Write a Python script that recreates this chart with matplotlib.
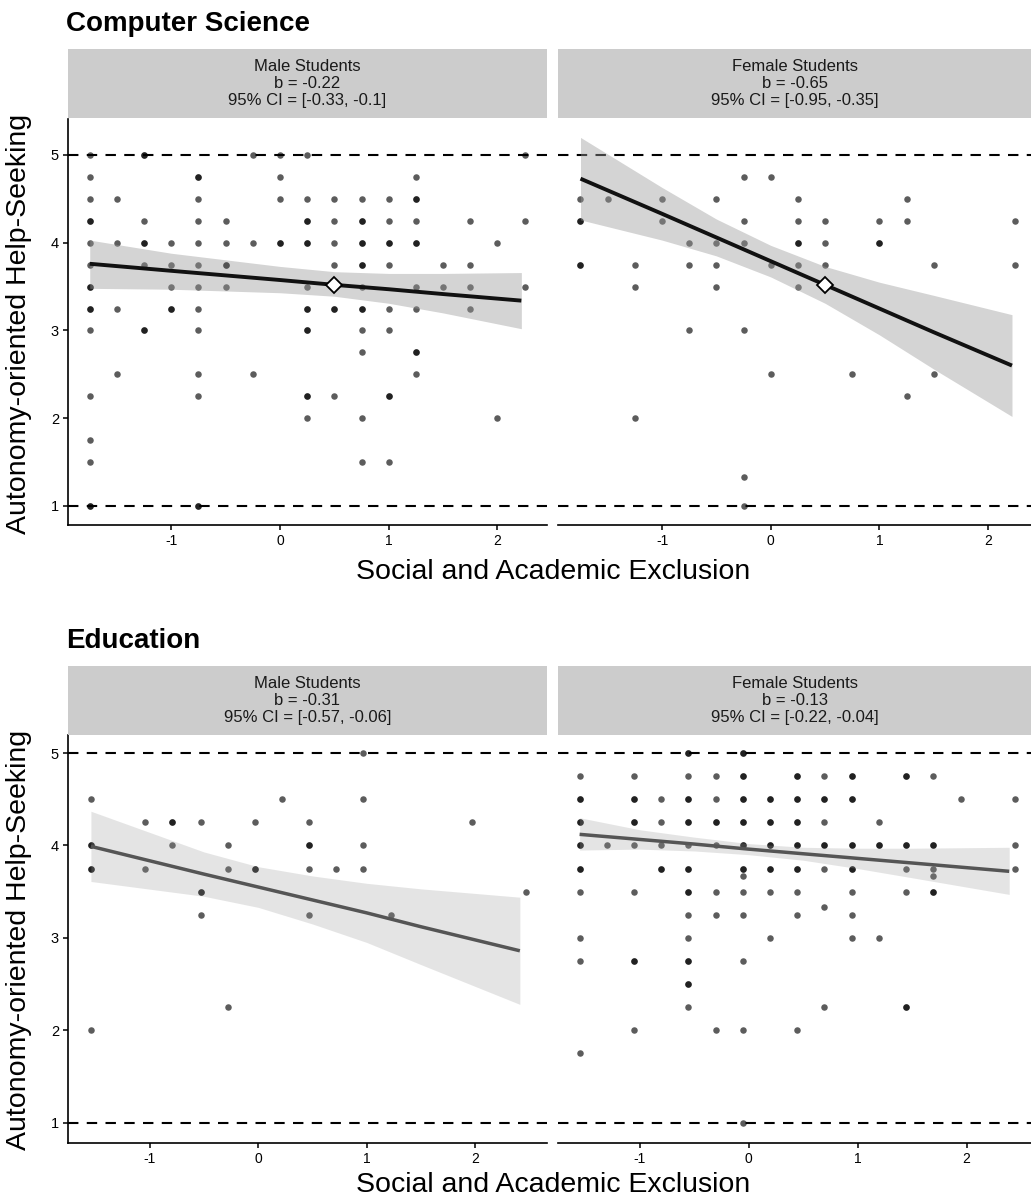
import matplotlib
matplotlib.use('Agg')
import matplotlib.pyplot as plt

plt.rcParams['font.family'] = ['Liberation Sans', 'DejaVu Sans']

# ---------------- data ----------------
titles = ["Computer Science", "Education"]
x_label = "Social and Academic Exclusion"
y_label = "Autonomy-oriented Help-Seeking"
x_ticks = [-1, 0, 1, 2]
y_ticks = [1, 2, 3, 4, 5]
ref_lines = [1, 5]

strip_cs_m = "Male Students\nb = -0.22\n95% CI = [-0.33, -0.1]"
strip_cs_f = "Female Students\nb = -0.65\n95% CI = [-0.95, -0.35]"
strip_ed_m = "Male Students\nb = -0.31\n95% CI = [-0.57, -0.06]"
strip_ed_f = "Female Students\nb = -0.13\n95% CI = [-0.22, -0.04]"

# Computer Science - male: x columns and the y values at each column (repeats = overlapping points)
cs_m_cols = [-1.75, -1.5, -1.25, -1.0, -0.75, -0.5, -0.25, 0.0, 0.25, 0.5, 0.75, 1.0, 1.25, 1.5, 1.75, 2.0, 2.25]
cs_m_vals = [
    [5, 4.75, 4.5, 4.25, 4.25, 4.0, 3.75, 3.5, 3.5, 3.25, 3.25, 3.0, 2.25, 1.75, 1.5, 1.0, 1.0],
    [4.5, 4.0, 3.25, 2.5],
    [5, 5, 4.25, 4.0, 4.0, 3.75, 3.0, 3.0],
    [4.0, 3.75, 3.5, 3.25, 3.25],
    [4.75, 4.75, 4.5, 4.25, 4.0, 3.75, 3.5, 3.25, 3.0, 2.5, 2.25, 1.0, 1.0],
    [4.25, 4.0, 3.75, 3.75, 3.5],
    [5, 4.0, 2.5],
    [5, 4.75, 4.5, 4.0, 4.0],
    [5, 4.5, 4.25, 4.25, 4.0, 4.0, 3.5, 3.25, 3.25, 3.0, 3.0, 2.25, 2.25, 2.0],
    [4.5, 4.25, 4.0, 3.75, 3.5, 3.25, 3.25, 2.25],
    [4.5, 4.25, 4.25, 4.0, 4.0, 3.75, 3.75, 3.5, 3.25, 3.25, 3.0, 2.75, 2.0, 1.5],
    [4.5, 4.25, 4.0, 4.0, 3.75, 3.25, 3.0, 2.25, 2.25, 1.5],
    [4.75, 4.5, 4.5, 4.25, 4.0, 4.0, 3.5, 3.25, 2.75, 2.75, 2.5],
    [3.75, 3.5],
    [4.25, 3.75, 3.5, 3.25],
    [4.0, 2.0],
    [5, 4.25, 3.5],
]
cs_m_fit_x = [-1.75, -1.0, 0.0, 0.5, 1.0, 1.5, 2.22]
cs_m_fit = [3.76, 3.68, 3.575, 3.52, 3.47, 3.415, 3.34]
cs_m_hi = [4.03, 3.88, 3.73, 3.67, 3.65, 3.65, 3.66]
cs_m_lo = [3.48, 3.47, 3.43, 3.39, 3.31, 3.20, 3.02]
cs_m_mean = (0.5, 3.52)

# Computer Science - female
cs_f_cols = [-1.75, -1.5, -1.25, -1.0, -0.75, -0.5, -0.25, 0.0, 0.25, 0.5, 0.75, 1.0, 1.25, 1.5, 2.25]
cs_f_vals = [
    [4.5, 4.25, 4.25, 3.75, 3.75],
    [4.5],
    [3.75, 3.5, 2.0],
    [4.5, 4.25],
    [4.0, 3.75, 3.0],
    [4.5, 4.0, 3.75, 3.5],
    [4.75, 4.25, 4.0, 3.0, 1.33, 1.0],
    [4.75, 3.75, 2.5],
    [4.5, 4.25, 4.0, 4.0, 3.75, 3.5],
    [4.25, 4.0, 3.75],
    [2.5],
    [4.25, 4.0, 4.0],
    [4.5, 4.25, 2.25],
    [3.75, 2.5],
    [4.25, 3.75],
]
cs_f_fit_x = [-1.75, -1.0, -0.5, 0.0, 0.5, 1.0, 1.5, 2.22]
cs_f_fit = [4.73, 4.33, 4.06, 3.79, 3.52, 3.25, 2.98, 2.60]
cs_f_hi = [5.20, 4.63, 4.27, 3.97, 3.73, 3.55, 3.40, 3.18]
cs_f_lo = [4.26, 4.03, 3.85, 3.61, 3.31, 2.95, 2.56, 2.02]
cs_f_mean = (0.5, 3.52)

# Education - male
ed_m_cols = [-1.54, -1.04, -0.79, -0.53, -0.28, -0.03, 0.22, 0.47, 0.72, 0.97, 1.22, 1.97, 2.47]
ed_m_vals = [
    [4.5, 4.0, 4.0, 3.75, 3.75, 2.0],
    [4.25, 3.75],
    [4.25, 4.25, 4.0],
    [4.25, 3.5, 3.5, 3.25],
    [4.0, 3.75, 2.25],
    [4.25, 3.75, 3.75],
    [4.5],
    [4.25, 4.0, 4.0, 3.75, 3.25],
    [3.75],
    [5.0, 4.5, 4.0, 3.75],
    [3.25],
    [4.25],
    [3.5],
]
ed_m_fit_x = [-1.54, -0.5, 0.0, 0.5, 1.0, 1.5, 2.41]
ed_m_fit = [3.99, 3.69, 3.55, 3.41, 3.27, 3.12, 2.86]
ed_m_hi = [4.37, 3.93, 3.77, 3.67, 3.59, 3.53, 3.44]
ed_m_lo = [3.61, 3.45, 3.33, 3.15, 2.95, 2.71, 2.28]

# Education - female
ed_f_cols = [-1.55, -1.30, -1.055, -0.80, -0.553, -0.303, -0.055, 0.196, 0.443, 0.694, 0.945, 1.196, 1.443, 1.694, 1.945, 2.443]
ed_f_vals = [
    [4.75, 4.5, 4.5, 4.25, 4.25, 4.0, 4.0, 3.75, 3.75, 3.5, 3.0, 2.75, 1.75],
    [4.0],
    [4.75, 4.5, 4.5, 4.25, 4.25, 4.0, 3.5, 2.75, 2.75, 2.0],
    [4.5, 4.25, 4.0, 3.75, 3.75],
    [5.0, 5.0, 4.75, 4.5, 4.5, 4.25, 4.25, 4.0, 3.75, 3.75, 3.5, 3.5, 3.25, 3.0, 2.75, 2.75, 2.5, 2.5, 2.25],
    [4.75, 4.5, 4.25, 4.25, 4.0, 3.5, 3.25, 2.0],
    [5.0, 5.0, 4.75, 4.75, 4.5, 4.5, 4.25, 4.25, 4.0, 4.0, 3.75, 3.75, 3.67, 3.5, 3.25, 2.75, 2.0, 1.0],
    [4.5, 4.5, 4.25, 4.25, 4.0, 4.0, 3.75, 3.75, 3.5, 3.0],
    [4.75, 4.75, 4.5, 4.5, 4.25, 4.25, 4.0, 4.0, 3.75, 3.75, 3.5, 3.25, 2.0],
    [4.75, 4.5, 4.5, 4.25, 4.0, 4.0, 3.75, 3.33, 2.25],
    [4.75, 4.75, 4.5, 4.5, 4.0, 4.0, 3.75, 3.75, 3.5, 3.25, 3.0],
    [4.25, 4.0, 4.0, 3.0],
    [4.75, 4.75, 4.0, 4.0, 3.75, 3.5, 2.25, 2.25],
    [4.75, 4.0, 4.0, 3.75, 3.67, 3.5, 3.5],
    [4.5],
    [4.5, 4.0, 3.75],
]
ed_f_fit_x = [-1.55, -1.0, -0.5, 0.0, 0.5, 1.0, 1.5, 2.39]
ed_f_fit = [4.12, 4.065, 4.015, 3.96, 3.91, 3.86, 3.81, 3.72]
ed_f_hi = [4.30, 4.17, 4.09, 4.02, 3.98, 3.97, 3.97, 3.98]
ed_f_lo = [3.95, 3.96, 3.94, 3.90, 3.84, 3.75, 3.65, 3.47]

# ---------------- figure ----------------
W, H = 1031, 1198
fig = plt.figure(figsize=(W / 100, H / 100), dpi=100)


def rect(x0, y0, x1, y1):
    return [x0 / W, 1 - y1 / H, (x1 - x0) / W, (y1 - y0) / H]


def panel(box, xlim, ylim, cols, vals, fx, fy, lo, hi, line_color, line_w, rib_alpha,
          strip_text, strip_box, show_y, mean=None):
    ax = fig.add_axes(rect(*box))
    px = [c for c, vv in zip(cols, vals) for _ in vv]
    py = [v for vv in vals for v in vv]
    for r in ref_lines:
        ax.axhline(r, color='black', lw=1.5, ls=(0, (5, 4.0)), zorder=1)
    ax.scatter(px, py, s=22, color='black', alpha=0.64, linewidths=0, zorder=2)
    ax.fill_between(fx, lo, hi, color='#999999', alpha=rib_alpha, lw=0, zorder=3)
    ax.plot(fx, fy, color=line_color, lw=line_w, zorder=4, solid_capstyle='butt')
    if mean is not None:
        ax.plot([mean[0]], [mean[1]], marker='D', ms=8.5, mfc='white', mec='black',
                mew=1.3, zorder=5)
    ax.set_xlim(*xlim)
    ax.set_ylim(*ylim)
    ax.set_xticks(x_ticks)
    ax.set_xticklabels([str(t) for t in x_ticks])
    for s in ['top', 'right']:
        ax.spines[s].set_visible(False)
    ax.spines['bottom'].set_linewidth(1.2)
    ax.tick_params(axis='x', length=3.5, width=1.1, labelsize=10, pad=3, colors='black')
    if show_y:
        ax.spines['left'].set_linewidth(1.2)
        ax.set_yticks(y_ticks)
        ax.set_yticklabels([str(t) for t in y_ticks])
        ax.tick_params(axis='y', length=3.5, width=1.1, labelsize=10.5, pad=3, colors='black')
    else:
        ax.spines['left'].set_visible(False)
        ax.set_yticks([])
    ax.set_facecolor('white')
    sax = fig.add_axes(rect(*strip_box))
    sax.set_facecolor('#cccccc')
    for s in sax.spines.values():
        s.set_visible(False)
    sax.set_xticks([])
    sax.set_yticks([])
    sax.text(0.5, 0.5, strip_text, ha='center', va='center', fontsize=12,
             color='#1a1a1a', linespacing=1.15, transform=sax.transAxes)
    return ax


# top row (Computer Science)
top_ylim = (0.783, 5.41)
panel((68, 119, 547, 525), (-1.95, 2.456), top_ylim, cs_m_cols, cs_m_vals,
      cs_m_fit_x, cs_m_fit, cs_m_lo, cs_m_hi, '#111111', 2.8, 0.42,
      strip_cs_m, (68, 49, 547, 118), True, cs_m_mean)
panel((558, 119, 1031, 525), (-1.957, 2.395), top_ylim, cs_f_cols, cs_f_vals,
      cs_f_fit_x, cs_f_fit, cs_f_lo, cs_f_hi, '#111111', 2.8, 0.42,
      strip_cs_f, (558, 49, 1031, 118), False, cs_f_mean)

# bottom row (Education)
bot_ylim = (0.78, 5.195)
panel((68, 735, 547, 1143), (-1.751, 2.66), bot_ylim, ed_m_cols, ed_m_vals,
      ed_m_fit_x, ed_m_fit, ed_m_lo, ed_m_hi, '#555555', 2.5, 0.26,
      strip_ed_m, (68, 666, 547, 735), True)
panel((558, 735, 1031, 1143), (-1.748, 2.59), bot_ylim, ed_f_cols, ed_f_vals,
      ed_f_fit_x, ed_f_fit, ed_f_lo, ed_f_hi, '#555555', 2.5, 0.26,
      strip_ed_f, (558, 666, 1031, 735), False)

# titles and axis labels
fig.text(66 / W, 1 - 31 / H, titles[0], fontsize=20, fontweight='bold', ha='left',
         va='baseline', color='black')
fig.text(66 / W, 1 - 648 / H, titles[1], fontsize=20, fontweight='bold', ha='left',
         va='baseline', color='black')
fig.text(553 / W, 1 - 579 / H, x_label, fontsize=20.5, ha='center', va='baseline')
fig.text(553 / W, 1 - 1192 / H, x_label, fontsize=20.5, ha='center', va='baseline')
fig.text(19 / W, 1 - 324 / H, y_label, fontsize=20.5, rotation=90, ha='center', va='center')
fig.text(19 / W, 1 - 940 / H, y_label, fontsize=20.5, rotation=90, ha='center', va='center')

fig.savefig('out.png', dpi=100, facecolor='white')
